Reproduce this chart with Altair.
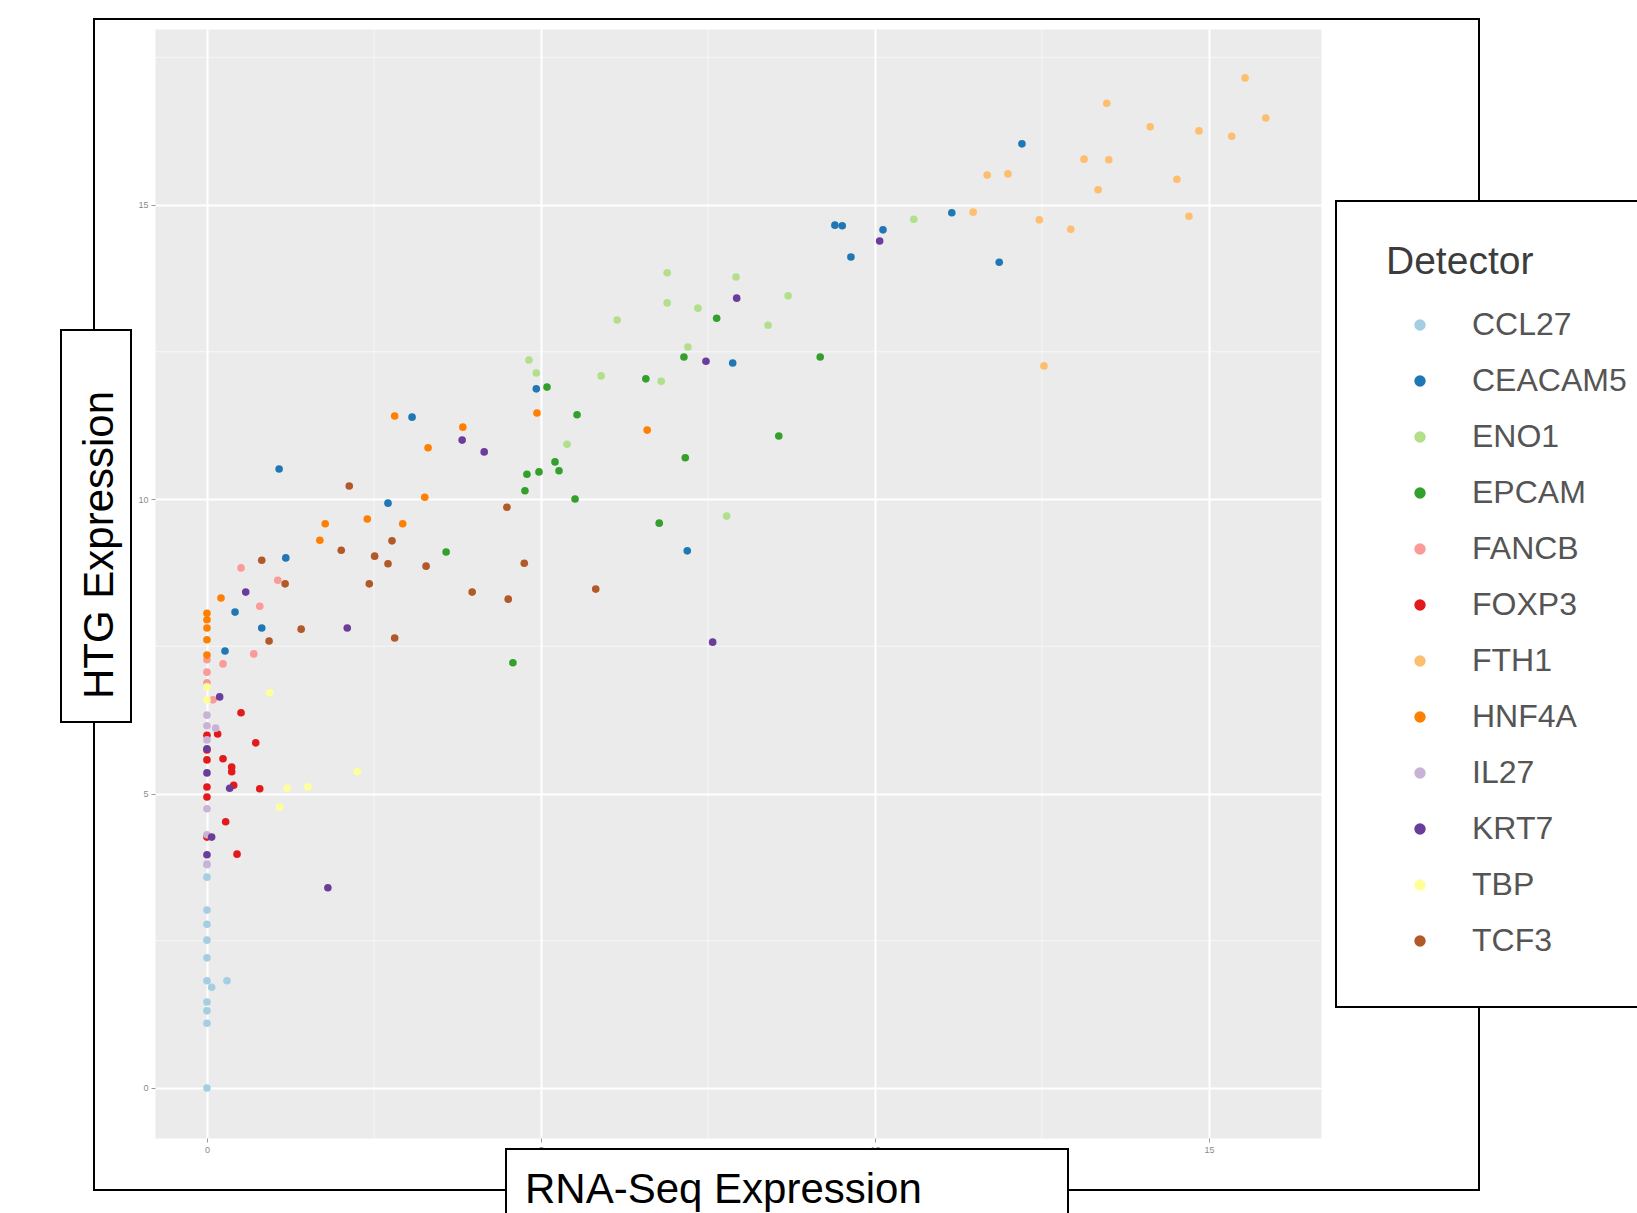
import altair as alt
import pandas as pd

# ---------------- data ----------------
detectors = ["CCL27", "CEACAM5", "ENO1", "EPCAM", "FANCB", "FOXP3",
             "FTH1", "HNF4A", "IL27", "KRT7", "TBP", "TCF3"]
palette = ["#A6CEE3", "#1F78B4", "#B2DF8A", "#33A02C", "#FB9A99", "#E31A1C",
           "#FDBF6F", "#FF7F00", "#CAB2D6", "#6A3D9A", "#FFFF99", "#B15928"]

ccl27_x = [0, 0, 0, 0, 0, 0, 0, 0.07, 0.30, 0, 0, 0, 0]
ccl27_y = [3.79, 3.58, 3.02, 2.78, 2.51, 2.21, 1.82, 1.71, 1.82, 1.46, 1.31, 1.10, 0.0]

ceacam5_x = [12.20, 11.15, 9.40, 9.51, 10.12, 9.64, 11.86, 7.87, 7.19, 4.93, 3.07,
             1.08, 2.71, 1.18, 0.82, 0.42, 0.27]
ceacam5_y = [16.03, 14.86, 14.65, 14.64, 14.57, 14.11, 14.02, 12.31, 9.12, 11.87, 11.39,
             10.51, 9.93, 9.00, 7.81, 8.08, 7.42]

eno1_x = [6.89, 7.92, 6.89, 7.35, 8.70, 6.14, 8.40, 7.20, 6.80, 4.82, 4.93, 5.90, 5.39, 7.78, 10.58]
eno1_y = [13.84, 13.77, 13.33, 13.24, 13.45, 13.04, 12.95, 12.58, 12.00, 12.36, 12.14, 12.09,
          10.93, 9.71, 14.75]

epcam_x = [9.18, 7.63, 7.14, 6.57, 5.09, 5.54, 8.56, 7.16, 5.21, 4.79, 4.97, 5.27, 4.76,
           5.51, 6.77, 4.58, 3.58]
epcam_y = [12.41, 13.07, 12.41, 12.04, 11.90, 11.43, 11.07, 10.70, 10.63, 10.42, 10.46,
           10.48, 10.14, 10.00, 9.59, 7.22, 9.10]

fancb_x = [0.51, 0.79, 1.06, 0.70, 0.24, 0, 0, 0, 0.09]
fancb_y = [8.83, 8.18, 8.62, 7.37, 7.20, 7.27, 7.06, 6.88, 6.59]

foxp3_x = [0.51, 0, 0.16, 0.73, 0.24, 0.37, 0.37, 0, 0.40, 0.79, 0, 0.28, 0, 0.45, 0, 0]
foxp3_y = [6.37, 5.99, 6.01, 5.86, 5.59, 5.45, 5.37, 5.11, 5.14, 5.08, 4.94, 4.52, 4.26,
           3.97, 5.57, 5.74]

fth1_x = [15.54, 13.47, 15.85, 14.12, 14.85, 15.34, 13.13, 13.50, 14.52, 11.68, 11.99,
          13.34, 11.47, 12.46, 12.93, 14.70, 12.53]
fth1_y = [17.15, 16.72, 16.47, 16.32, 16.25, 16.16, 15.77, 15.76, 15.43, 15.50, 15.52,
          15.25, 14.87, 14.74, 14.58, 14.80, 12.26]

hnf4a_x = [4.94, 3.83, 6.59, 2.81, 3.31, 3.26, 2.40, 1.77, 2.93, 1.69, 0.21, 0, 0, 0, 0, 0]
hnf4a_y = [11.46, 11.22, 11.17, 11.41, 10.87, 10.03, 9.66, 9.58, 9.58, 9.30, 8.32, 8.06,
           7.95, 7.81, 7.61, 7.35]

il27_x = [0, 0, 0, 0, 0, 0.13, 0]
il27_y = [6.33, 6.15, 4.74, 4.30, 3.80, 6.11, 5.91]

krt7_x = [10.07, 7.93, 7.47, 3.82, 4.15, 7.57, 0.58, 2.10, 0.19, 0, 0, 0.34, 0.07, 0, 1.81]
krt7_y = [14.38, 13.41, 12.34, 11.00, 10.80, 7.57, 8.42, 7.81, 6.64, 5.76, 5.35, 5.09,
          4.26, 3.96, 3.40]

tbp_x = [0, 0.94, 2.25, 1.51, 1.20, 1.09, 0]
tbp_y = [6.81, 6.71, 5.37, 5.11, 5.09, 4.77, 6.59]

tcf3_x = [2.13, 2.77, 2.01, 2.51, 2.71, 3.28, 2.43, 1.17, 0.82, 4.49, 4.75, 3.97, 4.51,
          5.82, 1.41, 2.81, 0.93]
tcf3_y = [10.22, 9.29, 9.13, 9.03, 8.90, 8.86, 8.56, 8.56, 8.96, 9.86, 8.91, 8.42, 8.30,
          8.47, 7.79, 7.64, 7.59]

x_ticks = [0, 5, 10, 15]
y_ticks = [0, 5, 10, 15]
x_minor = [2.5, 7.5, 12.5]
y_minor = [2.5, 7.5, 12.5, 17.5]

series = {
    "CCL27": (ccl27_x, ccl27_y), "CEACAM5": (ceacam5_x, ceacam5_y),
    "ENO1": (eno1_x, eno1_y), "EPCAM": (epcam_x, epcam_y),
    "FANCB": (fancb_x, fancb_y), "FOXP3": (foxp3_x, foxp3_y),
    "FTH1": (fth1_x, fth1_y), "HNF4A": (hnf4a_x, hnf4a_y),
    "IL27": (il27_x, il27_y), "KRT7": (krt7_x, krt7_y),
    "TBP": (tbp_x, tbp_y), "TCF3": (tcf3_x, tcf3_y),
}
rows = []
for d, (xs, ys) in series.items():
    for a, b in zip(xs, ys):
        rows.append({"Detector": d, "rna": a, "htg": b})
df = pd.DataFrame(rows)

# ---------------- layout ----------------
W, H = 1166, 1109
PAD = {"left": 155, "top": 29, "right": 316, "bottom": 75}
FONT = "Liberation Sans"

x_scale = alt.Scale(domain=[-0.778, 16.677], nice=False, zero=False)
y_scale = alt.Scale(domain=[-0.849, 17.98], nice=False, zero=False)

axis_common = dict(title=None, domain=False, grid=True, gridColor="white", gridWidth=2,
                   tickColor="#9a9a9a", tickSize=4, labelFontSize=9, labelColor="#8a8a8a",
                   labelFont=FONT, labelPadding=3)


def xenc(field):
    return alt.X(field, type="quantitative", scale=x_scale,
                 axis=alt.Axis(values=x_ticks, **axis_common))


def yenc(field):
    return alt.Y(field, type="quantitative", scale=y_scale,
                 axis=alt.Axis(values=y_ticks, **axis_common))


one = alt.Data(values=[{}])

outer = alt.Chart(one).mark_rect(fillOpacity=0, stroke="black", strokeWidth=2).encode(
    x=alt.value(-61), x2=alt.value(1324), y=alt.value(-10), y2=alt.value(1161))

minor_v = alt.Chart(pd.DataFrame({"v": x_minor})).mark_rule(
    color="white", strokeWidth=1, opacity=0.6).encode(x=xenc("v"))
minor_h = alt.Chart(pd.DataFrame({"h": y_minor})).mark_rule(
    color="white", strokeWidth=1, opacity=0.6).encode(y=yenc("h"))

points = alt.Chart(df).mark_circle(size=58, opacity=1).encode(
    x=xenc("rna"),
    y=yenc("htg"),
    color=alt.Color("Detector:N",
                    scale=alt.Scale(domain=detectors, range=palette),
                    legend=alt.Legend(title="Detector", orient="none",
                                      legendX=1231, legendY=214,
                                      titleFontSize=39, titleFont=FONT,
                                      titleFontWeight="normal", titleColor="#3c3c3c",
                                      titlePadding=27,
                                      labelFontSize=32, labelFont=FONT,
                                      labelColor="#555555",
                                      symbolType="circle", symbolSize=130,
                                      symbolOffset=18, labelOffset=36,
                                      rowPadding=24, symbolStrokeWidth=0)),
)

ybox = alt.Chart(one).mark_rect(fill="white", stroke="black", strokeWidth=2).encode(
    x=alt.value(-94), x2=alt.value(-24), y=alt.value(301), y2=alt.value(693))
ytext = alt.Chart(one).mark_text(text="HTG Expression", angle=270, fontSize=42, font=FONT,
                                 align="center", baseline="alphabetic", color="black").encode(
    x=alt.value(-42), y=alt.value(516))

xbox = alt.Chart(one).mark_rect(fill="white", stroke="black", strokeWidth=2).encode(
    x=alt.value(351), x2=alt.value(913), y=alt.value(1120), y2=alt.value(1220))
xtext = alt.Chart(one).mark_text(text="RNA-Seq Expression", fontSize=42, font=FONT,
                                 align="left", baseline="alphabetic", color="black").encode(
    x=alt.value(370), y=alt.value(1174))

lbox = alt.Chart(one).mark_rect(fill="white", stroke="black", strokeWidth=2).encode(
    x=alt.value(1181), x2=alt.value(1500), y=alt.value(172), y2=alt.value(978))

chart = alt.layer(outer, minor_v, minor_h, points, ybox, ytext, xbox, xtext, lbox).properties(
    width=W, height=H,
    autosize=alt.AutoSizeParams(type="none"),
    padding=PAD,
    background="white",
).configure_view(fill="#EBEBEB", stroke="transparent")

chart.save("out.html", embed_options={"renderer": "svg", "actions": False})
